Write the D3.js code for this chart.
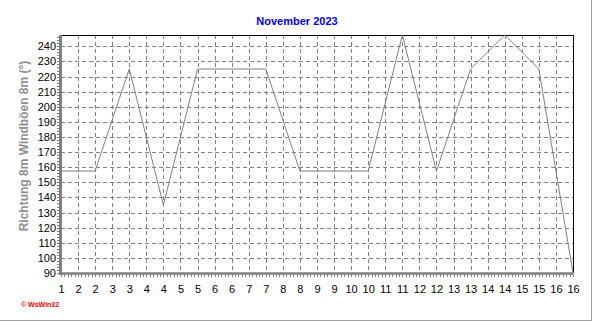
<!DOCTYPE html>
<html>
<head>
<meta charset="utf-8">
<script src="https://cdn.jsdelivr.net/npm/d3@7"></script>
<style>
body { margin: 0; background: #fff; }
text { font-family: "Liberation Sans", Arial, sans-serif; }
</style>
</head>
<body>
<script>
// days of the month and wind gust direction (degrees)
var days = [1, 2, 3, 4, 5, 6, 7, 8, 9, 10, 11, 12, 13, 14, 15, 16];
var direction = [157.5, 157.5, 225, 135, 225, 225, 225, 157.5, 157.5, 157.5, 247.5, 157.5, 225, 247.5, 225, 90];
var yTicks = [90, 100, 110, 120, 130, 140, 150, 160, 170, 180, 190, 200, 210, 220, 230, 240];
var xTicks = d3.range(1, 16.01, 0.5);

var w = 592, h = 321;
var svg = d3.select("body").append("svg")
    .attr("width", w)
    .attr("height", h);

// outer frame (right and bottom only)
svg.append("line").attr("x1", 591.5).attr("x2", 591.5).attr("y1", 0).attr("y2", 321)
    .style("stroke", "#a0a0a0");
svg.append("line").attr("x1", 0).attr("x2", 592).attr("y1", 320.5).attr("y2", 320.5)
    .style("stroke", "#a0a0a0");

var x = d3.scaleLinear().domain([1, 16]).range([61, 573]);
var y = d3.scaleLinear().domain([90, 247.5]).range([273, 35]);

// grid
var grid = svg.append("g").attr("class", "grid")
    .style("stroke", "#808080")
    .style("stroke-dasharray", "4,3")
    .attr("shape-rendering", "crispEdges");
grid.selectAll(".vgrid")
    .data(xTicks.slice(1, -1))
    .enter().append("line")
    .attr("class", "vgrid")
    .attr("x1", function(d){ return Math.round(x(d)) + 0.5; })
    .attr("x2", function(d){ return Math.round(x(d)) + 0.5; })
    .attr("y1", 35).attr("y2", 273);
grid.selectAll(".hgrid")
    .data(yTicks.slice(1))
    .enter().append("line")
    .attr("class", "hgrid")
    .attr("x1", 61).attr("x2", 573)
    .attr("y1", function(d){ return Math.round(y(d)) + 0.5; })
    .attr("y2", function(d){ return Math.round(y(d)) + 0.5; });

// top and right black border
svg.append("path")
    .attr("d", "M61,35.5H573.5V273")
    .style("fill", "none")
    .style("stroke", "#000")
    .attr("shape-rendering", "crispEdges");

// data line
var line = d3.line()
    .x(function(d, i){ return x(days[i]); })
    .y(function(d){ return y(d); });
svg.append("path")
    .datum(direction)
    .attr("d", line)
    .style("fill", "none")
    .style("stroke", "#808080")
    .style("stroke-width", 1);

// minor ticks
var minorX = d3.range(1, 16.001, 0.1);
svg.selectAll(".mx")
    .data(minorX)
    .enter().append("line")
    .attr("x1", function(d){ return Math.round(x(d)) + 0.5; })
    .attr("x2", function(d){ return Math.round(x(d)) + 0.5; })
    .attr("y1", 274).attr("y2", 277)
    .style("stroke", "#808080")
    .attr("shape-rendering", "crispEdges");
var minorY = d3.range(90, 248, 2);
svg.selectAll(".my")
    .data(minorY)
    .enter().append("line")
    .attr("x1", 57).attr("x2", 60)
    .attr("y1", function(d){ return Math.round(y(d)) + 0.5; })
    .attr("y2", function(d){ return Math.round(y(d)) + 0.5; })
    .style("stroke", "#808080")
    .attr("shape-rendering", "crispEdges");

// axis lines, thick gray
svg.append("line").attr("x1", 60.5).attr("x2", 60.5).attr("y1", 35).attr("y2", 275)
    .style("stroke", "#808080").style("stroke-width", 3);
svg.append("line").attr("x1", 59).attr("x2", 573).attr("y1", 273.5).attr("y2", 273.5)
    .style("stroke", "#808080").style("stroke-width", 2.5);

// tick labels
svg.selectAll(".ylab")
    .data(yTicks)
    .enter().append("text")
    .attr("class", "ylab")
    .attr("text-anchor", "end")
    .attr("x", 56)
    .attr("y", function(d){ return y(d) + 4; })
    .style("font-size", "11px")
    .text(function(d){ return d; });
svg.selectAll(".xlab")
    .data(xTicks)
    .enter().append("text")
    .attr("class", "xlab")
    .attr("text-anchor", "middle")
    .attr("x", function(d){ return x(d) + 0.5; })
    .attr("y", 293)
    .style("font-size", "11px")
    .text(function(d){ return Math.round(d); });

// title
svg.append("text")
    .attr("text-anchor", "middle")
    .attr("x", 297)
    .attr("y", 25)
    .style("font-size", "11px")
    .style("font-weight", "bold")
    .style("fill", "#0000ff")
    .text("November 2023");

// y axis title
svg.append("text")
    .attr("text-anchor", "middle")
    .attr("transform", "translate(28,146) rotate(-90)")
    .style("font-size", "12px")
    .style("font-weight", "bold")
    .style("fill", "#909090")
    .text("Richtung 8m Windböen 8m (°)");

// credit
svg.append("text")
    .attr("x", 21)
    .attr("y", 307)
    .style("font-size", "7px")
    .style("font-weight", "bold")
    .style("fill", "#ff0000")
    .text("© WsWin32");
</script>
</body>
</html>
